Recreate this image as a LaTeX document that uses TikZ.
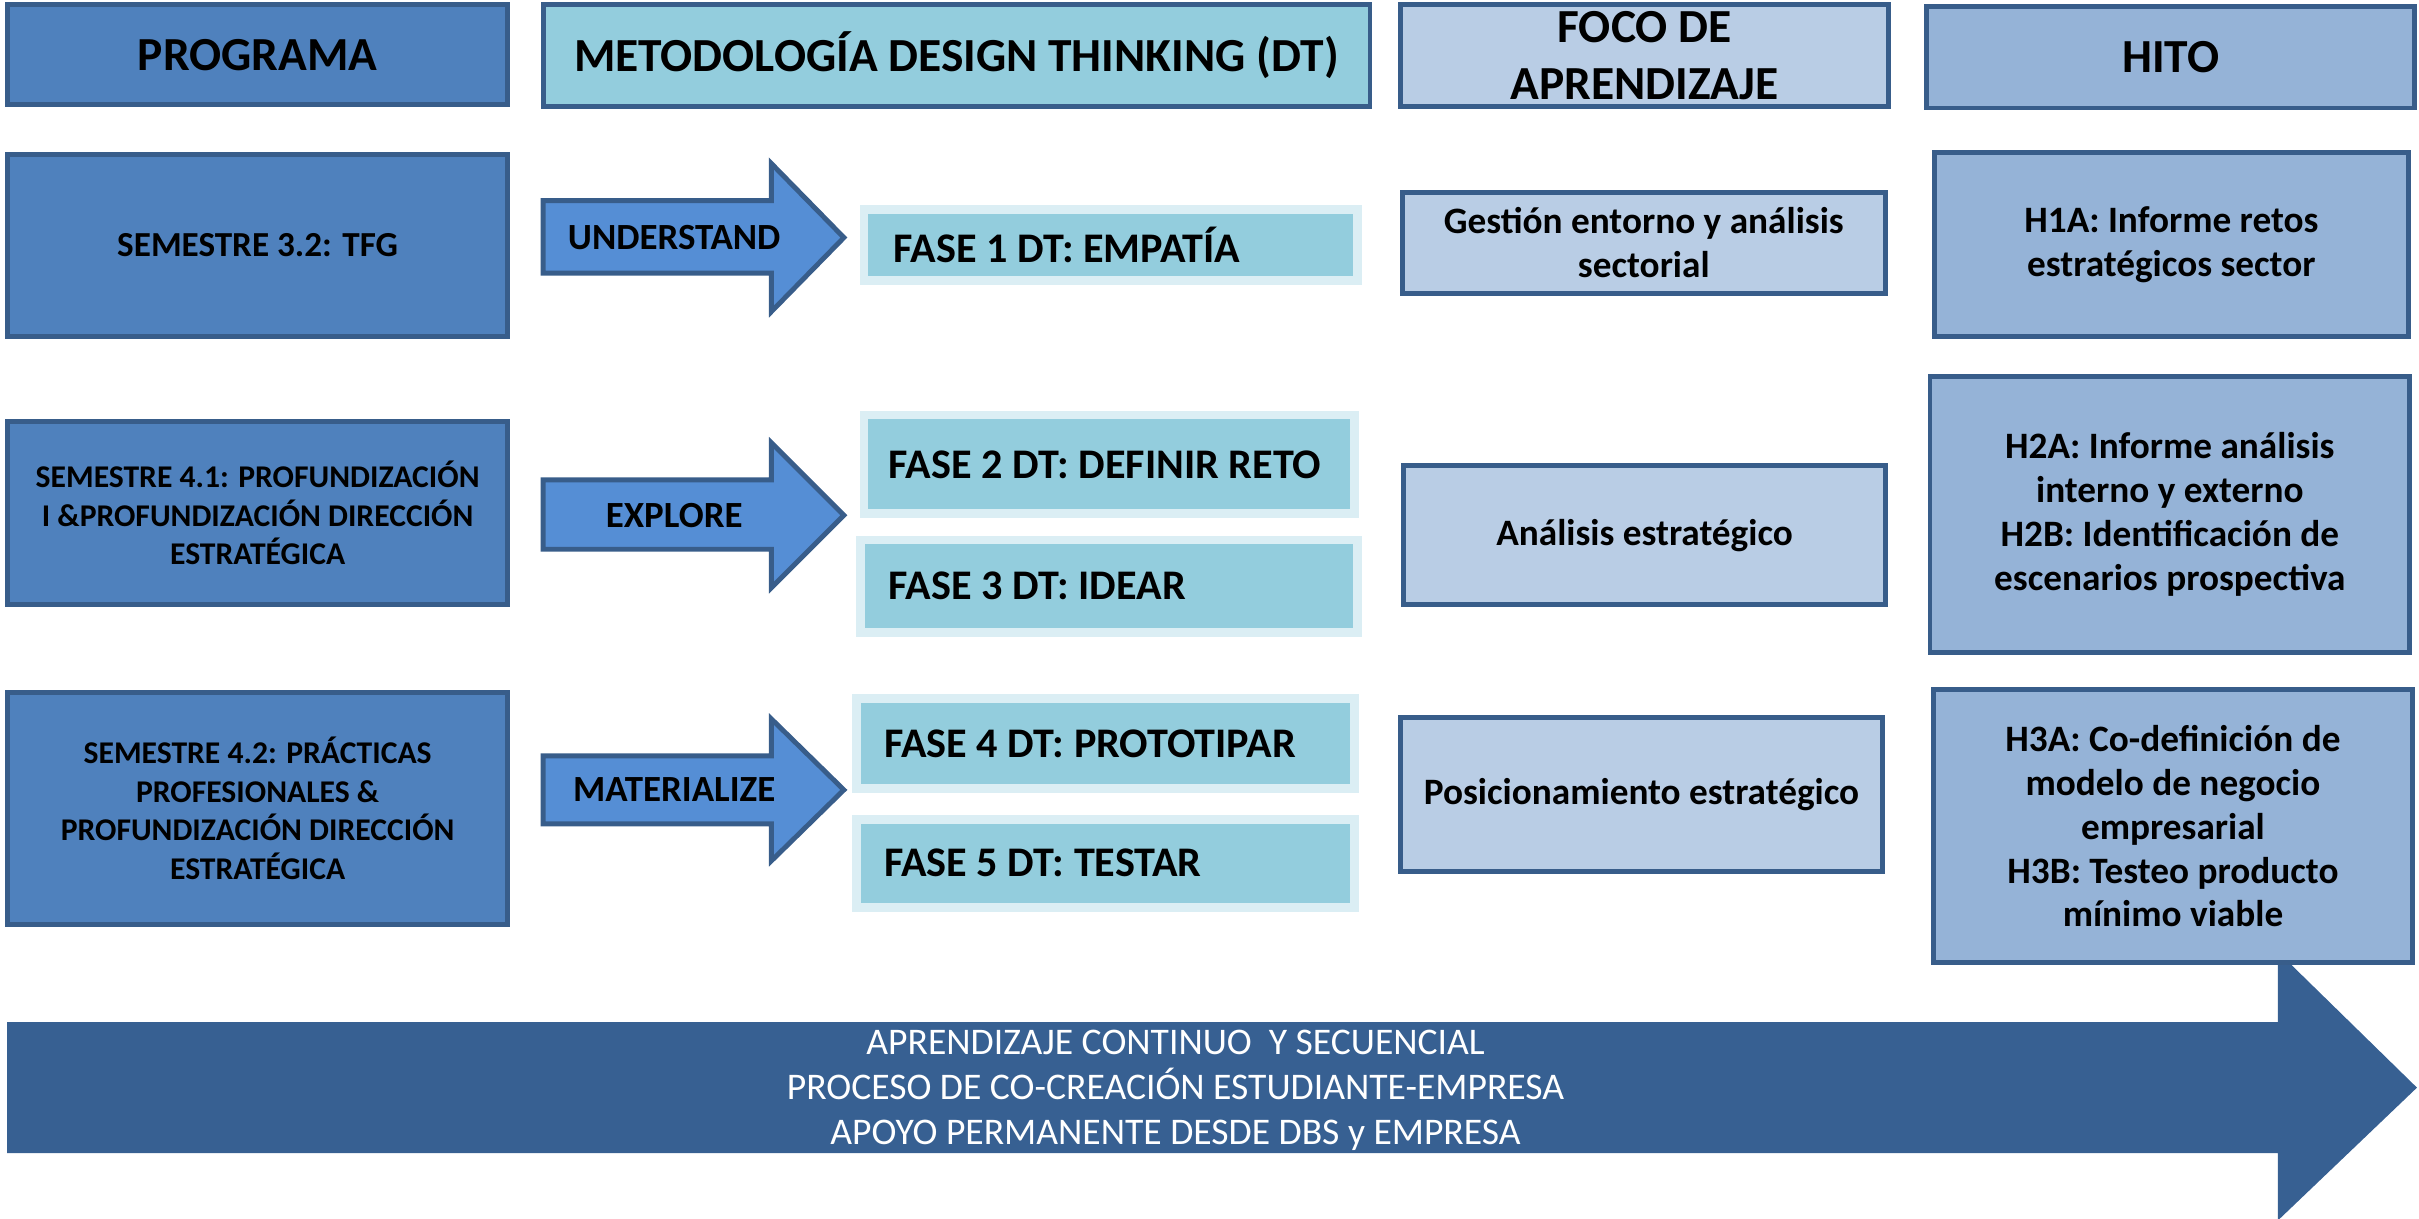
\documentclass[tikz,border=0pt]{standalone}
\usepackage{fontspec}
\setmainfont{Carlito}
\usetikzlibrary{fit,calc}
\definecolor{progblue}{HTML}{4F81BD}
\definecolor{edgeblue}{HTML}{385D8A}
\definecolor{arrowblue}{HTML}{558ED5}
\definecolor{phasecyan}{HTML}{93CDDD}
\definecolor{phaseglow}{HTML}{DBEEF4}
\definecolor{focoblue}{HTML}{B9CDE5}
\definecolor{hitoblue}{HTML}{95B3D7}
\definecolor{flowblue}{HTML}{376092}

\tikzset{
  cell/.style={draw=edgeblue, line width=1.4pt, inner sep=0pt},
  headtext/.style={align=center, font=\bfseries\fontsize{13.5}{16}\selectfont},
  progtext/.style={align=center, font=\bfseries\fontsize{9}{11}\selectfont},
  cellfont/.style={align=center, font=\bfseries\fontsize{10.6}{12.5}\selectfont},
  phasecell/.style={draw=phaseglow, line width=2.5pt, fill=phasecyan, inner sep=0pt},
  phasetext/.style={anchor=west, font=\bfseries\fontsize{12}{14}\selectfont},
  blockarrow/.style={draw=edgeblue, line width=1.4pt, fill=arrowblue, line join=miter},
  arrowtext/.style={font=\bfseries\fontsize{10.5}{12}\selectfont},
}

\begin{document}
\begin{tikzpicture}[x=0.015427cm, y=-0.015427cm]
    \useasboundingbox (0,0) rectangle (1568,790);

    % column headers
    \node[cell, fill=progblue, fit={(5,3) (329,68)}] (programa) {};
    \node[headtext] (programa-t) at (programa.center) {PROGRAMA};
    \node[cell, fill=phasecyan, fit={(352,3) (888,69)}] (metodo) {};
    \node[headtext] (metodo-t) at (metodo.center) {METODOLOGÍA DESIGN THINKING (DT)};
    \node[cell, fill=focoblue, fit={(908,3) (1224,69)}] (foco) {};
    \node[headtext] (foco-t) at (foco.center) {FOCO DE\\APRENDIZAJE};
    \node[cell, fill=hitoblue, fit={(1249,4) (1565,70)}] (hito) {};
    \node[headtext] (hito-t) at (hito.center) {HITO};

    % programa
    \node[cell, fill=progblue, fit={(5,100) (329,218)}] (sem1) {};
    \node[progtext, font=\bfseries\fontsize{10}{12}\selectfont] (sem1-t) at (sem1.center) {SEMESTRE 3.2: TFG};
    \node[cell, fill=progblue, fit={(5,273) (329,392)}] (sem2) {};
    \node[progtext] (sem2-t) at (sem2.center) {SEMESTRE 4.1: PROFUNDIZACIÓN\\I \&PROFUNDIZACIÓN DIRECCIÓN\\ESTRATÉGICA};
    \node[cell, fill=progblue, fit={(5,449) (329,599)}] (sem3) {};
    \node[progtext] (sem3-t) at (sem3.center) {SEMESTRE 4.2: PRÁCTICAS\\PROFESIONALES \&\\PROFUNDIZACIÓN DIRECCIÓN\\ESTRATÉGICA};

    % design thinking steps
    \draw[blockarrow] (352,130) -- (500,130) -- (500,106) -- (547,154) -- (500,202) -- (500,177) -- (352,177) -- cycle;
    \node[arrowtext] (understand) at (437,154) {UNDERSTAND};
    \draw[blockarrow] (352,311) -- (500,311) -- (500,287) -- (547,334) -- (500,381) -- (500,356) -- (352,356) -- cycle;
    \node[arrowtext] (explore) at (437,334) {EXPLORE};
    \draw[blockarrow] (352,490) -- (500,490) -- (500,466) -- (547,512) -- (500,558) -- (500,534) -- (352,534) -- cycle;
    \node[arrowtext] (materialize) at (437,512) {MATERIALIZE};

    \node[phasecell, fit={(560,136) (880,182)}] (fase1) {};
    \node[phasetext] (fase1-t) at ($(fase1.west)+(14,0)$) {FASE 1 DT: EMPATÍA};
    \node[phasecell, fit={(560,269) (878,333)}] (fase2) {};
    \node[phasetext] (fase2-t) at ($(fase2.west)+(11,0)$) {FASE 2 DT: DEFINIR RETO};
    \node[phasecell, fit={(558,350) (880,410)}] (fase3) {};
    \node[phasetext] (fase3-t) at ($(fase3.west)+(13,0)$) {FASE 3 DT: IDEAR};
    \node[phasecell, fit={(555,453) (878,511)}] (fase4) {};
    \node[phasetext] (fase4-t) at ($(fase4.west)+(13,0)$) {FASE 4 DT: PROTOTIPAR};
    \node[phasecell, fit={(555,531) (878,588)}] (fase5) {};
    \node[phasetext] (fase5-t) at ($(fase5.west)+(13,0)$) {FASE 5 DT: TESTAR};

    % foco de aprendizaje
    \node[cell, fill=focoblue, fit={(909,125) (1222,190)}] (gestion) {};
    \node[cellfont] (gestion-t) at (gestion.center) {Gestión entorno y análisis\\sectorial};
    \node[cell, fill=focoblue, fit={(910,302) (1222,392)}] (analisis) {};
    \node[cellfont] (analisis-t) at (analisis.center) {Análisis estratégico};
    \node[cell, fill=focoblue, fit={(908,465) (1220,565)}] (posicion) {};
    \node[cellfont] (posicion-t) at (posicion.center) {Posicionamiento estratégico};

    % hitos
    \node[cell, fill=hitoblue, fit={(1254,99) (1561,218)}] (hito1) {};
    \node[cellfont] (hito1-t) at (hito1.center) {H1A: Informe retos\\estratégicos sector};
    \node[cell, fill=hitoblue, fit={(1251,244) (1562,423)}] (hito2) {};
    \node[cellfont] (hito2-t) at (hito2.center) {H2A: Informe análisis\\interno y externo\\H2B: Identificación de\\escenarios prospectiva};

    % continuous flow
    \draw[fill=flowblue, draw=flowblue] (5,663) -- (1477,663) -- (1477,618) -- (1566,705) -- (1477,790) -- (1477,747) -- (5,747) -- cycle;
    \node[cell, fill=hitoblue, fit={(1253,447) (1564,624)}] (hito3) {};
    \node[cellfont] (hito3-t) at (hito3.center) {H3A: Co-definición de\\modelo de negocio\\empresarial\\H3B: Testeo producto\\mínimo viable};
    \node[text=white, align=center, font=\fontsize{10.7}{12.8}\selectfont] (flowtext) at (762,707)
        {APRENDIZAJE CONTINUO \ Y SECUENCIAL\\PROCESO DE CO-CREACIÓN ESTUDIANTE-EMPRESA\\APOYO PERMANENTE DESDE DBS y EMPRESA};
\end{tikzpicture}
\end{document}
